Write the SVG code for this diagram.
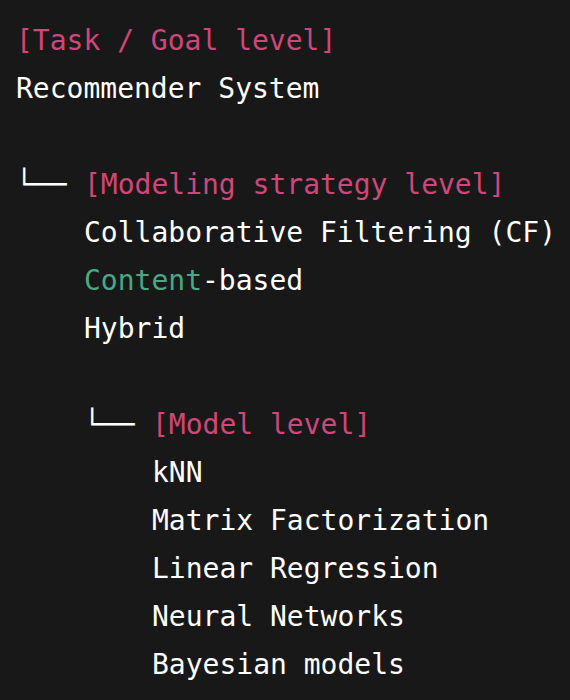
<svg xmlns="http://www.w3.org/2000/svg" width="570" height="700" viewBox="0 0 570 700">
<style>
text { font-family: "DejaVu Sans Mono", "Liberation Mono", monospace; font-size: 28px; fill: #ffffff; }
.lvl { fill: #d1467a; }
.grn { fill: #4aa884; }
.conn { fill: #ffffff; }
</style>
<rect x="0" y="0" width="570" height="700" fill="#181818"/>
<g id="task-level">
  <text class="lvl" x="16" y="50">[Task / Goal level]</text>
  <text x="16" y="98">Recommender System</text>
</g>
<g id="connectors">
  <text class="conn" x="16" y="194">└──</text>
  <text class="conn" x="84" y="434">└──</text>
</g>
<g id="strategy-level">
  <text class="lvl" x="84" y="194">[Modeling strategy level]</text>
  <text x="84" y="242">Collaborative Filtering (CF)</text>
  <text x="84" y="290"><tspan class="grn">Content</tspan>-based</text>
  <text x="84" y="338">Hybrid</text>
</g>
<g id="model-level">
  <text class="lvl" x="152" y="434">[Model level]</text>
  <text x="152" y="482">kNN</text>
  <text x="152" y="530">Matrix Factorization</text>
  <text x="152" y="578">Linear Regression</text>
  <text x="152" y="626">Neural Networks</text>
  <text x="152" y="674">Bayesian models</text>
</g>
</svg>
